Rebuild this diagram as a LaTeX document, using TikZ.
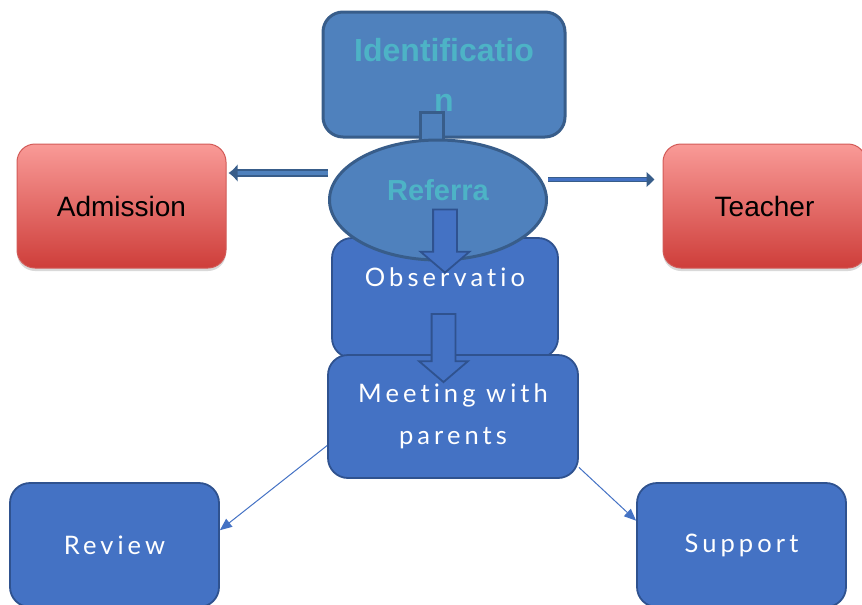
\documentclass[tikz,border=0pt]{standalone}
\usepackage{fontspec}
\setmainfont{Liberation Sans}
\newfontfamily\spacedfont[LetterSpace=16,Ligatures=NoCommon]{Lato}
\usetikzlibrary{shapes.geometric,shapes.arrows,shadows,arrows.meta}

\definecolor{idfill}{HTML}{4F81BD}
\definecolor{idedge}{HTML}{385D8A}
\definecolor{boxfill}{HTML}{4472C4}
\definecolor{boxedge}{HTML}{2F528F}
\definecolor{tealfill}{HTML}{4DB3C6}
\definecolor{redtop}{HTML}{F99A97}
\definecolor{redbot}{HTML}{CE3E3A}
\definecolor{rededge}{HTML}{D25A57}

\begin{document}
\begin{tikzpicture}[x=1pt, y=-1pt,
    idbox/.style={draw=idedge, fill=idfill, line width=3pt, text=tealfill,
      font=\bfseries\fontsize{32}{50}\selectfont, align=center},
    bluebox/.style={draw=boxedge, fill=boxfill, line width=1.8pt, rounded corners=20pt,
      text=white, font=\spacedfont\fontsize{25.5}{42}\selectfont, align=center},
    redbox/.style={draw=rededge, line width=1pt, rounded corners=18pt,
      top color=redtop, bottom color=redbot, minimum width=209pt, minimum height=124pt,
      drop shadow={shadow xshift=0pt, shadow yshift=-3pt, opacity=.3},
      font=\fontsize{28}{30}\selectfont},
    blockdown/.style={shape=single arrow, draw=boxedge, fill=boxfill, line width=1.8pt,
      rotate=-90, inner sep=0pt, inner ysep=11pt, single arrow head extend=12.5pt,
      single arrow tip angle=99},
    sidearrow/.style={draw=idedge, line width=2pt, double=idfill, double distance=4pt,
      -{Latex[length=9pt,width=18pt]}},
    linkarrow/.style={draw=boxfill, line width=1pt, -{Triangle[length=12pt,width=10pt]}}
  ]
  \useasboundingbox (0,0) rectangle (862,605);

  \node[idbox, rounded corners=20pt, minimum width=242pt, minimum height=125pt]
    (id) at (444,74.5) {Identificatio\\n};
  \node[draw=idedge, fill=idfill, line width=3pt, minimum width=23pt, minimum height=34pt]
    (stub) at (431.5,129) {};

  \node[bluebox, minimum width=226pt, minimum height=120pt]
    (obs) at (445,298) {Observatio\\~};
  \node[idbox, ellipse, minimum width=217pt, minimum height=120pt, font=\bfseries\fontsize{29}{30}\selectfont]
    (ref) at (438,200) {\raisebox{20pt}{Referra}};
  \node[blockdown, minimum height=63pt] (down1) at (445,236) {};

  \node[bluebox, minimum width=250pt, minimum height=123pt]
    (meet) at (453,416.5) {Meeting with\\parents};
  \node[blockdown, minimum height=68pt] (down2) at (443.5,343) {};

  \node[redbox] (adm) at (121.5,206) {Admission};
  \node[redbox, minimum width=203pt] (tea) at (764.5,206) {Teacher};

  \node[bluebox, minimum width=209pt, minimum height=124pt] (rev) at (114.5,545) {Review};
  \node[bluebox, minimum width=209pt, minimum height=124pt] (sup) at (741.5,545) {Support};

  \coordinate (la) at ([yshift=27pt]ref.west);
  \coordinate (ra) at ([yshift=20.5pt]ref.east);
  \draw[sidearrow] (la) -- ([xshift=2pt]la -| adm.east);
  \draw[draw=idedge, line width=1.2pt, double=boxfill, double distance=2.5pt,
    -{Triangle[length=8pt,width=15pt]}, shorten >=8pt] (ra) -- (ra -| tea.west);

  \draw[linkarrow] (meet.193) -- (rev.8);
  \draw[linkarrow] (meet.-22) -- (sup.167.5);
\end{tikzpicture}
\end{document}
